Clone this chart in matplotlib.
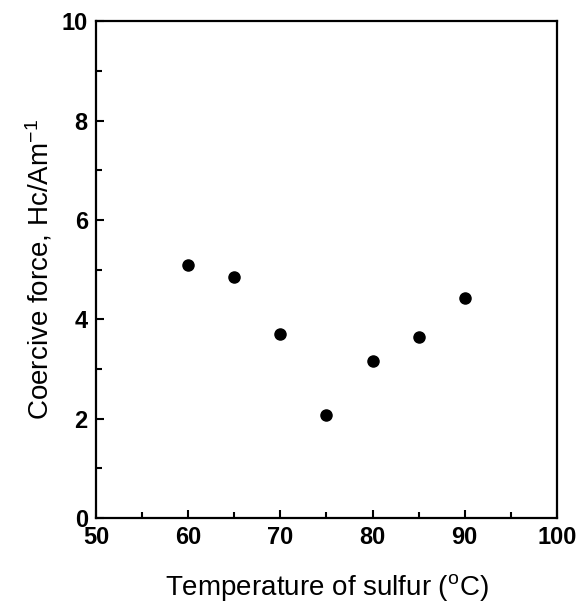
import matplotlib
matplotlib.use("Agg")
import matplotlib.pyplot as plt
from matplotlib.ticker import MultipleLocator

# sulfur temperature (C) vs coercive force
temperature = [60, 65, 70, 75, 80, 85, 90]
coercive_force = [5.09, 4.86, 3.70, 2.07, 3.16, 3.65, 4.42]

plt.rcParams['font.family'] = ['Liberation Sans', 'DejaVu Sans']
plt.rcParams['mathtext.fontset'] = 'custom'
plt.rcParams['mathtext.rm'] = 'Liberation Sans'
plt.rcParams['mathtext.it'] = 'Liberation Sans'

fig = plt.figure(figsize=(5.83, 6.06), dpi=100)
ax = fig.add_axes([0.165, 0.145, 0.79, 0.82])

ax.plot(temperature, coercive_force, 'o', color='black', markersize=8)

ax.set_xlim(50, 100)
ax.set_ylim(0, 10)
ax.xaxis.set_major_locator(MultipleLocator(10))
ax.xaxis.set_minor_locator(MultipleLocator(5))
ax.yaxis.set_major_locator(MultipleLocator(2))
ax.yaxis.set_minor_locator(MultipleLocator(1))

ax.tick_params(which='both', direction='in', top=False, right=False, width=1.5)
ax.tick_params(which='major', length=6, labelsize=17)
ax.tick_params(which='minor', length=4)
ax.tick_params(axis='x', pad=6)
ax.tick_params(axis='y', pad=6)
for lbl in ax.get_xticklabels() + ax.get_yticklabels():
    lbl.set_fontweight('bold')

for s in ax.spines.values():
    s.set_linewidth(1.6)

ax.set_xlabel('Temperature of sulfur ($^{\\mathrm{o}}$C)', fontsize=20, labelpad=16)
ax.set_ylabel('Coercive force, Hc/Am$^{-1}$', fontsize=20, labelpad=5)

fig.savefig('out.png', dpi=100)
